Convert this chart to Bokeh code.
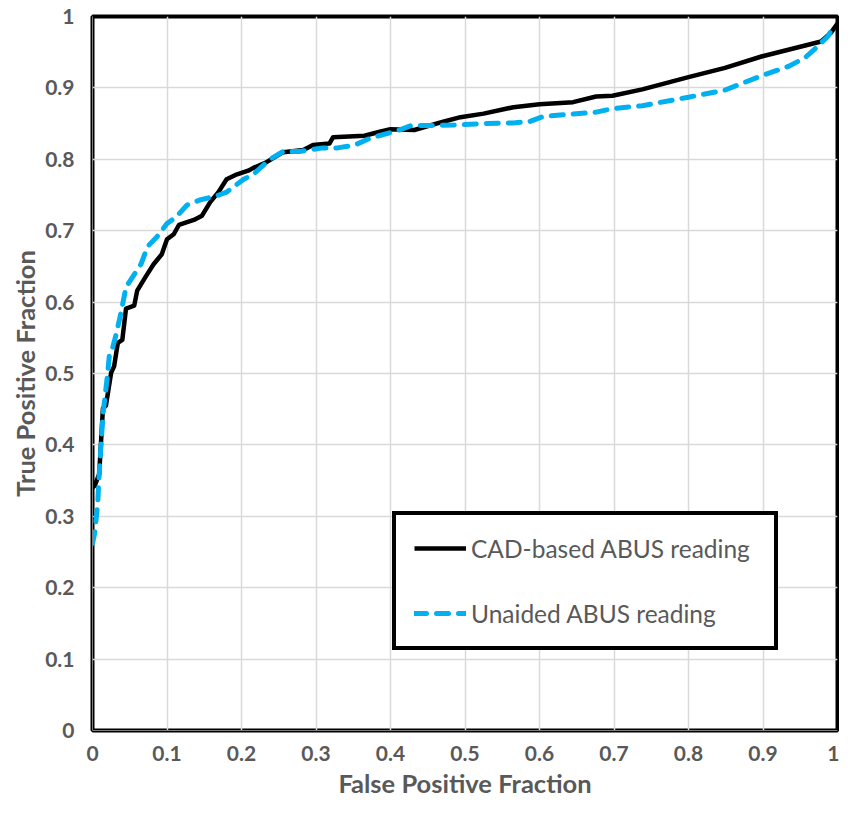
from bokeh.plotting import figure
from bokeh.models import Legend, LegendItem, FixedTicker
from bokeh.embed import file_html
from bokeh.resources import INLINE

# --- data ---
cad_fpf = [0.0, 0.003, 0.009, 0.014, 0.018, 0.025, 0.029, 0.034, 0.040, 0.045, 0.056, 0.060,
           0.071, 0.082, 0.093, 0.100, 0.109, 0.116, 0.136, 0.147, 0.158, 0.169, 0.180,
           0.194, 0.209, 0.216, 0.232, 0.243, 0.256, 0.283, 0.296, 0.318, 0.323, 0.365,
           0.387, 0.400, 0.432, 0.472, 0.494, 0.525, 0.565, 0.600, 0.645, 0.676, 0.698,
           0.738, 0.800, 0.849, 0.898, 0.978, 0.991, 1.0]
cad_tpf = [0.340, 0.343, 0.359, 0.451, 0.455, 0.501, 0.510, 0.543, 0.547, 0.591, 0.595, 0.616,
           0.635, 0.653, 0.667, 0.688, 0.695, 0.708, 0.715, 0.721, 0.740, 0.754, 0.772,
           0.779, 0.784, 0.788, 0.795, 0.802, 0.810, 0.813, 0.820, 0.822, 0.831, 0.833,
           0.839, 0.842, 0.841, 0.853, 0.859, 0.864, 0.873, 0.877, 0.880, 0.888, 0.889,
           0.898, 0.915, 0.928, 0.944, 0.965, 0.977, 0.990]

unaided_fpf = [0.0, 0.003, 0.007, 0.009, 0.014, 0.020, 0.023, 0.027, 0.032, 0.038, 0.045, 0.058,
               0.065, 0.074, 0.087, 0.100, 0.112, 0.127, 0.144, 0.167, 0.180, 0.203, 0.216,
               0.238, 0.256, 0.278, 0.309, 0.329, 0.352, 0.374, 0.409, 0.427, 0.485, 0.525,
               0.565, 0.587, 0.605, 0.640, 0.676, 0.698, 0.738, 0.800, 0.849, 0.898, 0.934,
               0.956, 0.969, 0.987, 0.996]
unaided_tpf = [0.262, 0.277, 0.318, 0.359, 0.442, 0.497, 0.529, 0.536, 0.556, 0.584, 0.621, 0.642,
               0.653, 0.678, 0.692, 0.710, 0.719, 0.736, 0.743, 0.749, 0.754, 0.772, 0.779,
               0.800, 0.811, 0.811, 0.816, 0.816, 0.820, 0.830, 0.840, 0.847, 0.848, 0.850,
               0.851, 0.853, 0.860, 0.863, 0.866, 0.871, 0.875, 0.887, 0.897, 0.917, 0.930,
               0.942, 0.954, 0.972, 0.988]

tick_values = [0.0, 0.1, 0.2, 0.3, 0.4, 0.5, 0.6, 0.7, 0.8, 0.9, 1.0]
tick_labels = ["0", "0.1", "0.2", "0.3", "0.4", "0.5", "0.6", "0.7", "0.8", "0.9", "1"]

series_names = ["CAD-based ABUS reading", "Unaided ABUS reading"]

FONT = "Lato"
GRAY = "#595959"

p = figure(width=839, height=800, x_range=(0, 1), y_range=(0, 1),
           output_backend="svg", toolbar_location=None,
           min_border_left=92, min_border_right=2, min_border_top=16, min_border_bottom=68)

p.background_fill_color = "white"
p.outline_line_color = "black"
p.outline_line_width = 4

for ax in (p.xaxis[0], p.yaxis[0]):
    ax.ticker = FixedTicker(ticks=tick_values)
    ax.major_label_overrides = {v: l for v, l in zip(tick_values, tick_labels)}
    ax.major_tick_line_color = None
    ax.minor_tick_line_color = None
    ax.axis_line_color = "#7f7f7f"
    ax.axis_line_width = 1
    ax.major_label_text_font = FONT
    ax.major_label_text_font_style = "bold"
    ax.major_label_text_font_size = "21px"
    ax.major_label_text_color = GRAY
    ax.axis_label_text_font = FONT
    ax.axis_label_text_font_style = "bold"
    ax.axis_label_text_font_size = "25.5px"
    ax.axis_label_text_color = GRAY

p.xaxis.axis_label = "False Positive Fraction"
p.yaxis.axis_label = "True Positive Fraction"
p.xaxis.major_label_standoff = 9
p.yaxis.major_label_standoff = 12
p.xaxis.axis_label_standoff = 4
p.yaxis.axis_label_standoff = 2

p.xgrid.grid_line_color = "#d9d9d9"
p.ygrid.grid_line_color = "#d9d9d9"
p.xgrid.grid_line_width = 1.5
p.ygrid.grid_line_width = 1.5

r_cad = p.line(cad_fpf, cad_tpf, line_color="black", line_width=4.5, line_join="round")
r_un = p.line(unaided_fpf, unaided_tpf, line_color="#00b0f0", line_width=5,
              line_dash="12 10", line_cap="round", line_join="round")

legend = Legend(items=[LegendItem(label=series_names[0], renderers=[r_cad]),
                       LegendItem(label=series_names[1], renderers=[r_un])],
                location=(300, 80), margin=0, padding=18, spacing=35,
                glyph_width=52, glyph_height=30, label_height=30, label_width=285,
                label_standoff=5,
                label_text_font=FONT, label_text_font_size="24.5px", label_text_color=GRAY,
                border_line_color="black", border_line_width=4, border_line_alpha=1.0,
                background_fill_color="white", background_fill_alpha=1.0)
p.add_layout(legend, "center")

open("out.html", "w").write(file_html(p, INLINE))
